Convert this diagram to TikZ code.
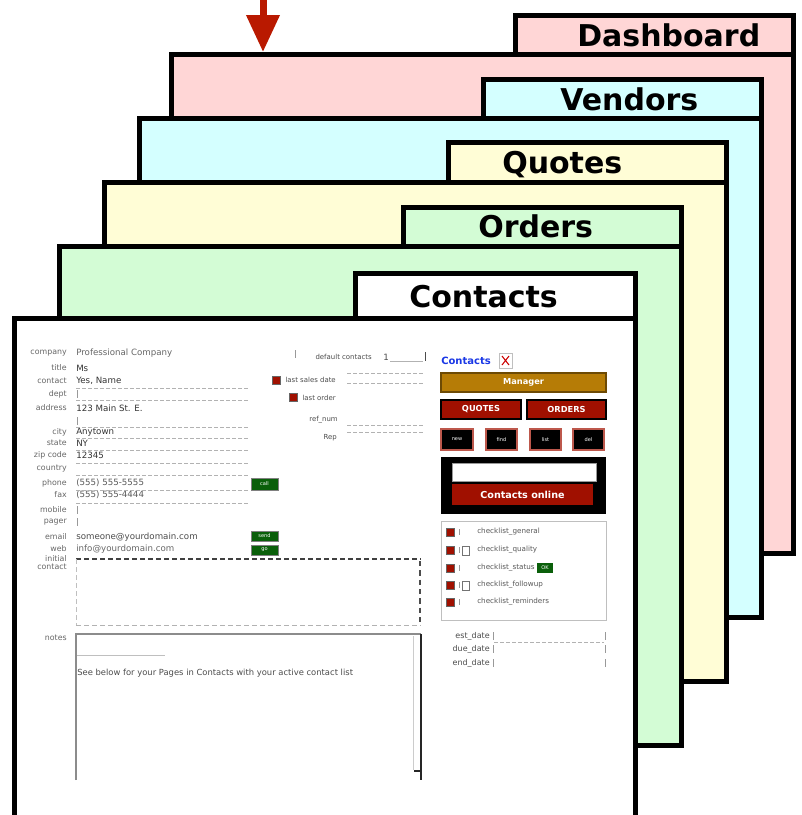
\documentclass[tikz,border=0pt]{standalone}
\usepackage{fontspec}
\setmainfont{DejaVu Sans}
\usetikzlibrary{arrows.meta}
\definecolor{cpink}{RGB}{255,214,214}
\definecolor{ccyan}{RGB}{212,255,255}
\definecolor{cyellow}{RGB}{255,253,214}
\definecolor{cgreen}{RGB}{211,252,213}
\definecolor{arrowred}{RGB}{185,25,0}
\definecolor{goldbar}{RGB}{182,124,6}
\definecolor{btnred}{RGB}{160,16,0}
\definecolor{btngreen}{RGB}{10,95,10}
\definecolor{linkblue}{RGB}{25,55,230}
\begin{document}
\begin{tikzpicture}[x=0.75pt,y=-0.75pt,
  card/.style={draw=black,line width=3.75pt},
  tablbl/.style={font=\bfseries\fontsize{22.5}{27}\selectfont,anchor=base west,inner sep=0pt},
  lbl/.style={font=\fontsize{5.9}{7}\selectfont,text=black!60,anchor=east,inner sep=0pt},
  val/.style={font=\fontsize{6.5}{7}\selectfont,text=black!80,anchor=west,inner sep=0pt},
  uline/.style={draw=black!30,line width=0.6pt,dash pattern=on 3pt off 1.5pt},
  tick/.style={draw=black!40,line width=0.5pt},
  gbtn/.style={fill=btngreen,draw=black!50,line width=0.5pt},
  rbtn/.style={fill=btnred,draw=black,line width=1.1pt},
  kbtn/.style={fill=black,draw=btnred!70,line width=0.8pt},
  ricon/.style={fill=btnred,draw=black!60,line width=0.4pt},
  btxt/.style={font=\bfseries\fontsize{6.2}{7}\selectfont,text=white,inner sep=0pt},
  stxt/.style={font=\fontsize{3.8}{4}\selectfont,text=white,inner sep=0pt}
]
\useasboundingbox (0,0) rectangle (801,815);
\clip (0,0) rectangle (801,815);

% ---- cards, back to front ----
\path[card,fill=cpink] (515,15) rectangle (793,54);
\path[card,fill=cpink] (171,54) rectangle (793,553);
\node[tablbl] (tdash) at (577,46) {Dashboard};
\coordinate (pinktop) at (263,52);
\coordinate (arrtop) at (263,-4);

\path[card,fill=ccyan] (483,79) rectangle (761,118);
\path[card,fill=ccyan] (139,118) rectangle (761,617);
\node[tablbl] (tvend) at (560,110) {Vendors};

\path[card,fill=cyellow] (448,142) rectangle (726,182);
\path[card,fill=cyellow] (104,182) rectangle (726,681);
\node[tablbl] (tquot) at (502,173) {Quotes};

\path[card,fill=cgreen] (403,207) rectangle (681,246);
\path[card,fill=cgreen] (59,246) rectangle (681,745);
\node[tablbl] (tord) at (478,237) {Orders};

\path[card,fill=white] (355,273) rectangle (635,318);
\path[card,fill=white] (14,318) rectangle (635,840);
\node[tablbl] (tcont) at (409,307) {Contacts};

\draw[arrowred,line width=5.25pt,-{Triangle[width=24pt,length=27.75pt]}] (arrtop) -- (pinktop);

% ---- form: left labels ----
\node[lbl] (l1) at (67,353) {company};
\node[lbl] (l2) at (67,368) {title};
\node[lbl] (l3) at (67,381) {contact};
\node[lbl] (l4) at (67,394) {dept};
\node[lbl] (l5) at (67,408) {address};
\node[lbl] (l6) at (67,432) {city};
\node[lbl] (l7) at (67,443) {state};
\node[lbl] (l8) at (67,455) {zip code};
\node[lbl] (l9) at (67,469) {country};
\node[lbl] (l10) at (67,483) {phone};
\node[lbl] (l11) at (67,495) {fax};
\node[lbl] (l12) at (67,510) {mobile};
\node[lbl] (l13) at (67,522) {pager};
\node[lbl] (l14) at (67,537) {email};
\node[lbl] (l15) at (67,549) {web};
\node[lbl] (l16) at (67,559) {initial};
\node[lbl] (l17) at (67,567) {contact};
\node[lbl] (l18) at (67,638) {notes};

% ---- form: values ----
\node[val,text=black!60] (v1) at (76,353) {Professional Company};
\node[val] (v2) at (76,368) {Ms};
\node[val] (v3) at (76,381) {Yes, Name};
\node[val] (v5) at (76,408) {123 Main St. E.};
\node[val] (v6) at (76,432) {Anytown};
\node[val] (v7) at (76,443) {NY};
\node[val] (v8) at (76,455) {12345};
\node[val,text=black!65] (v10) at (76,483) {(555) 555-5555};
\node[val,text=black!65] (v11) at (76,495) {(555) 555-4444};
\node[val,text=black!70] (v14) at (76,537) {someone@yourdomain.com};
\node[val,text=black!60] (v15) at (76,549) {info@yourdomain.com};

\foreach \yy in {388,400,427,438,450,463,475,490,503}
  \draw[uline] (76,\yy) -- (248,\yy);
\foreach \yy in {394,421,510,522}
  \draw[tick] (77,\yy-4) -- (77,\yy+4);

% green buttons
\path[gbtn] (251,478) rectangle (278,490);
\node[stxt] (g1) at (264.5,484) {call};
\path[gbtn] (251,531) rectangle (278,541);
\node[stxt] (g2) at (264.5,536) {send};
\path[gbtn] (251,545) rectangle (278,555);
\node[stxt] (g3) at (264.5,550) {go};

% ---- middle column ----
\draw[tick] (295,350) -- (295,358);
\node[lbl,font=\fontsize{5.2}{6}\selectfont,text=black!70] (m1) at (372,357) {default contacts};
\node[val,text=black!70] (m1b) at (383,357) {1};
\draw[black!30,line width=0.5pt] (390,361) -- (423,361);
\draw[black!70,line width=0.7pt] (425,352) -- (425,361);
\path[ricon] (272,376) rectangle (280,384);
\node[lbl,font=\fontsize{5.2}{6}\selectfont,text=black!70] (m2) at (336,380) {last sales date};
\draw[uline] (347,373) -- (425,373);
\draw[uline] (347,383) -- (425,383);
\path[ricon] (289,393) rectangle (297,401);
\node[lbl,font=\fontsize{5.2}{6}\selectfont,text=black!70] (m3) at (336,398) {last order};
\node[lbl,font=\fontsize{5.2}{6}\selectfont,text=black!70] (m4) at (338,420) {ref\_num};
\draw[uline] (347,425) -- (425,425);
\node[lbl,font=\fontsize{5.2}{6}\selectfont,text=black!70] (m5) at (337,438) {Rep};
\draw[uline] (347,432) -- (425,432);

% ---- text areas ----
\draw[black!75,line width=0.9pt,dash pattern=on 4pt off 2pt] (76,559) -- (421,559);
\draw[black!30,line width=0.7pt,dash pattern=on 4pt off 2pt] (76,625) -- (421,625);
\draw[black!25,line width=0.6pt,dash pattern=on 4pt off 2pt] (76,559) -- (76,625);
\draw[black!70,line width=0.8pt,dash pattern=on 4pt off 3pt] (420,561) -- (420,623);
\draw[black!45,line width=0.8pt] (76,780) -- (76,634) -- (421,634);
\draw[black!20,line width=0.6pt] (413,636) -- (413,770);
\draw[black!85,line width=1.6pt] (421,634) -- (421,780);
\draw[black!85,line width=1pt] (414,771) -- (421,771);
\draw[black!25,line width=0.6pt] (77,655) -- (165,655);
\node[val,font=\fontsize{6.3}{7}\selectfont,text=black!70] (n1) at (77,673) {See below for your Pages in Contacts with your active contact list};

% ---- right panel ----
\node[val,font=\bfseries\fontsize{7.5}{9}\selectfont,text=linkblue] (r1) at (441,361) {Contacts};
\path[draw=black!25,line width=0.4pt,fill=white] (499,353) rectangle (512,368);
\draw[red!80!black,line width=0.8pt] (502,356) -- (509,365) (509,356) -- (502,365);
\coordinate (xicon) at (505.5,360.5);

\path[fill=goldbar,draw=goldbar!60!black,line width=0.8pt] (441,373) rectangle (606,392);
\node[btxt] (r2) at (523.5,382.5) {Manager};
\path[rbtn] (441,400) rectangle (521,419);
\node[btxt] (r3) at (481,409.5) {QUOTES};
\path[rbtn] (527,400) rectangle (606,419);
\node[btxt] (r4) at (566.5,409.5) {ORDERS};

\path[kbtn] (441,429) rectangle (473,450);
\node[stxt] (k1) at (457,439.5) {new};
\path[kbtn] (486,429) rectangle (517,450);
\node[stxt] (k2) at (501.5,439.5) {find};
\path[kbtn] (530,429) rectangle (561,450);
\node[stxt] (k3) at (545.5,439.5) {list};
\path[kbtn] (573,429) rectangle (604,450);
\node[stxt] (k4) at (588.5,439.5) {del};

\path[fill=black] (441,457) rectangle (606,514);
\path[fill=white,draw=black!40,line width=0.5pt] (452,463) rectangle (596,481);
\path[fill=btnred] (452,484) rectangle (593,505);
\node[btxt,font=\bfseries\fontsize{7.2}{8}\selectfont] (r5) at (522.5,494.5) {Contacts online};

\path[draw=black!25,line width=0.6pt] (441,521) rectangle (606,620);
\foreach \yy/\tx [count=\i] in {532/checklist\_general,550/checklist\_quality,568/checklist\_status,585/checklist\_followup,602/checklist\_reminders}{
  \path[ricon] (446,\yy-4) rectangle (454,\yy+4);
  \draw[tick] (459,\yy-3) -- (459,\yy+3);
  \node[val,font=\fontsize{5.4}{6}\selectfont,text=black!65] (c\i) at (477,\yy) {\tx};
}
\path[draw=black!55,line width=0.6pt,fill=white] (462,546) rectangle (469,555);
\path[draw=black!55,line width=0.6pt,fill=white] (462,581) rectangle (469,590);
\path[fill=btngreen] (537,563) rectangle (553,573);
\node[stxt] (c6) at (545,568) {OK};

\foreach \yy/\tx [count=\i] in {636/est\_date,649/due\_date,663/end\_date}{
  \node[lbl,font=\fontsize{6}{7}\selectfont,text=black!70] (d\i) at (490,\yy) {\tx};
  \draw[tick] (493,\yy-4) -- (493,\yy+4);
  \draw[tick] (605,\yy-4) -- (605,\yy+4);
}
\draw[uline] (494,642) -- (604,642);
\end{tikzpicture}
\end{document}
